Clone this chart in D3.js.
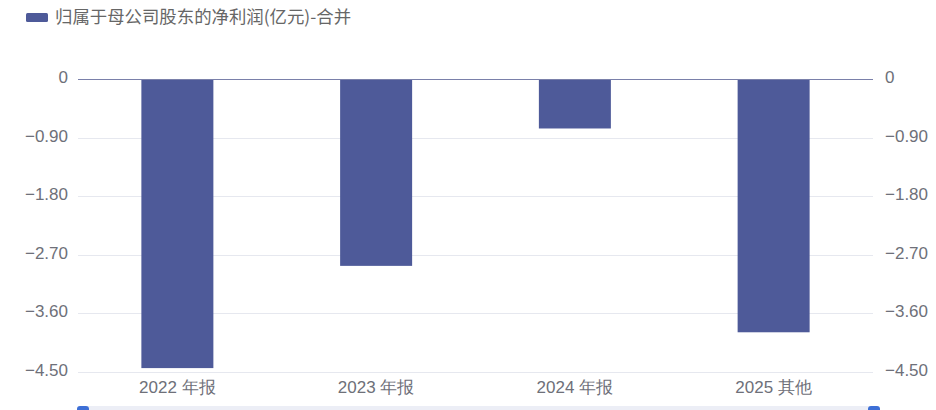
<!DOCTYPE html>
<html><head><meta charset="utf-8">
<script src="https://cdn.jsdelivr.net/npm/d3@7/dist/d3.min.js"></script>
<style>
html,body{margin:0;padding:0;background:#fff;}
svg{display:block;font-family:"Noto Sans CJK SC","Noto Sans",sans-serif;}
</style></head>
<body><svg id="c" width="936" height="410"></svg>
<script>
const categories = ["2022 年报", "2023 年报", "2024 年报", "2025 其他"];
const values = [-4.44, -2.87, -0.76, -3.89];
const yTicks = [0, -0.9, -1.8, -2.7, -3.6, -4.5];
const seriesName = "归属于母公司股东的净利润(亿元)-合并";

const svg = d3.select("#c");
const pLeft = 78, pRight = 873, pTop = 79, pBottom = 372;
const x = d3.scaleBand().domain(categories).range([pLeft, pRight]).paddingInner(0).paddingOuter(0);
const y = d3.scaleLinear().domain([0, -4.5]).range([pTop, pBottom]);
const fmt = v => v === 0 ? "0" : d3.format(".2f")(v);

// gridlines
svg.append("g").selectAll("line").data(yTicks.filter(t => t !== 0)).join("line")
  .attr("x1", pLeft).attr("x2", pRight)
  .attr("y1", d => Math.round(y(d)) + 0.5).attr("y2", d => Math.round(y(d)) + 0.5)
  .attr("stroke", "#e6e8ef").attr("stroke-width", 1);

// bars
const bw = 72;
svg.append("g").selectAll("rect").data(values).join("rect")
  .attr("x", (d, i) => x(categories[i]) + x.bandwidth() / 2 - bw / 2)
  .attr("width", bw)
  .attr("y", d => y(0))
  .attr("height", d => y(d) - y(0))
  .attr("fill", "#4e5a99");

// zero axis line
svg.append("line").attr("x1", pLeft).attr("x2", pRight)
  .attr("y1", Math.round(y(0)) + 0.5).attr("y2", Math.round(y(0)) + 0.5)
  .attr("stroke", "#7a80aa").attr("stroke-width", 1.2);

// left axis
const lAxis = d3.axisLeft(y).tickValues(yTicks).tickFormat(fmt).tickSize(0).tickPadding(10);
const gl = svg.append("g").attr("transform", `translate(${pLeft},-2)`).call(lAxis);
gl.select(".domain").remove();
gl.selectAll("text").attr("fill", "#6e7079").style("font-size", "17px").style("font-family", "inherit");

// right axis
const rAxis = d3.axisRight(y).tickValues(yTicks).tickFormat(fmt).tickSize(0).tickPadding(12);
const gr = svg.append("g").attr("transform", `translate(${pRight},-2)`).call(rAxis);
gr.select(".domain").remove();
gr.selectAll("text").attr("fill", "#6e7079").style("font-size", "17px").style("font-family", "inherit");

// x axis
const xAxis = d3.axisBottom(x).tickSize(0).tickPadding(9);
const gx = svg.append("g").attr("transform", `translate(0,${pBottom})`).call(xAxis);
gx.select(".domain").remove();
gx.selectAll("text").attr("fill", "#6e7079").style("font-size", "17px").style("font-family", "inherit");

// legend
svg.append("rect").attr("x", 26).attr("y", 13).attr("width", 22).attr("height", 9).attr("rx", 1.5).attr("fill", "#4e5a99");
svg.append("text").attr("x", 55).attr("y", 23).attr("fill", "#666").style("font-size", "17.4px").text(seriesName);

// data zoom slider (partially visible)
svg.append("rect").attr("x", 82).attr("y", 406).attr("width", 792).attr("height", 20).attr("fill", "#eceef6");
svg.append("rect").attr("x", 77).attr("y", 406).attr("width", 12).attr("height", 20).attr("rx", 3).attr("fill", "#3d6fd6");
svg.append("rect").attr("x", 868).attr("y", 406).attr("width", 12).attr("height", 20).attr("rx", 3).attr("fill", "#3d6fd6");
</script></body></html>
